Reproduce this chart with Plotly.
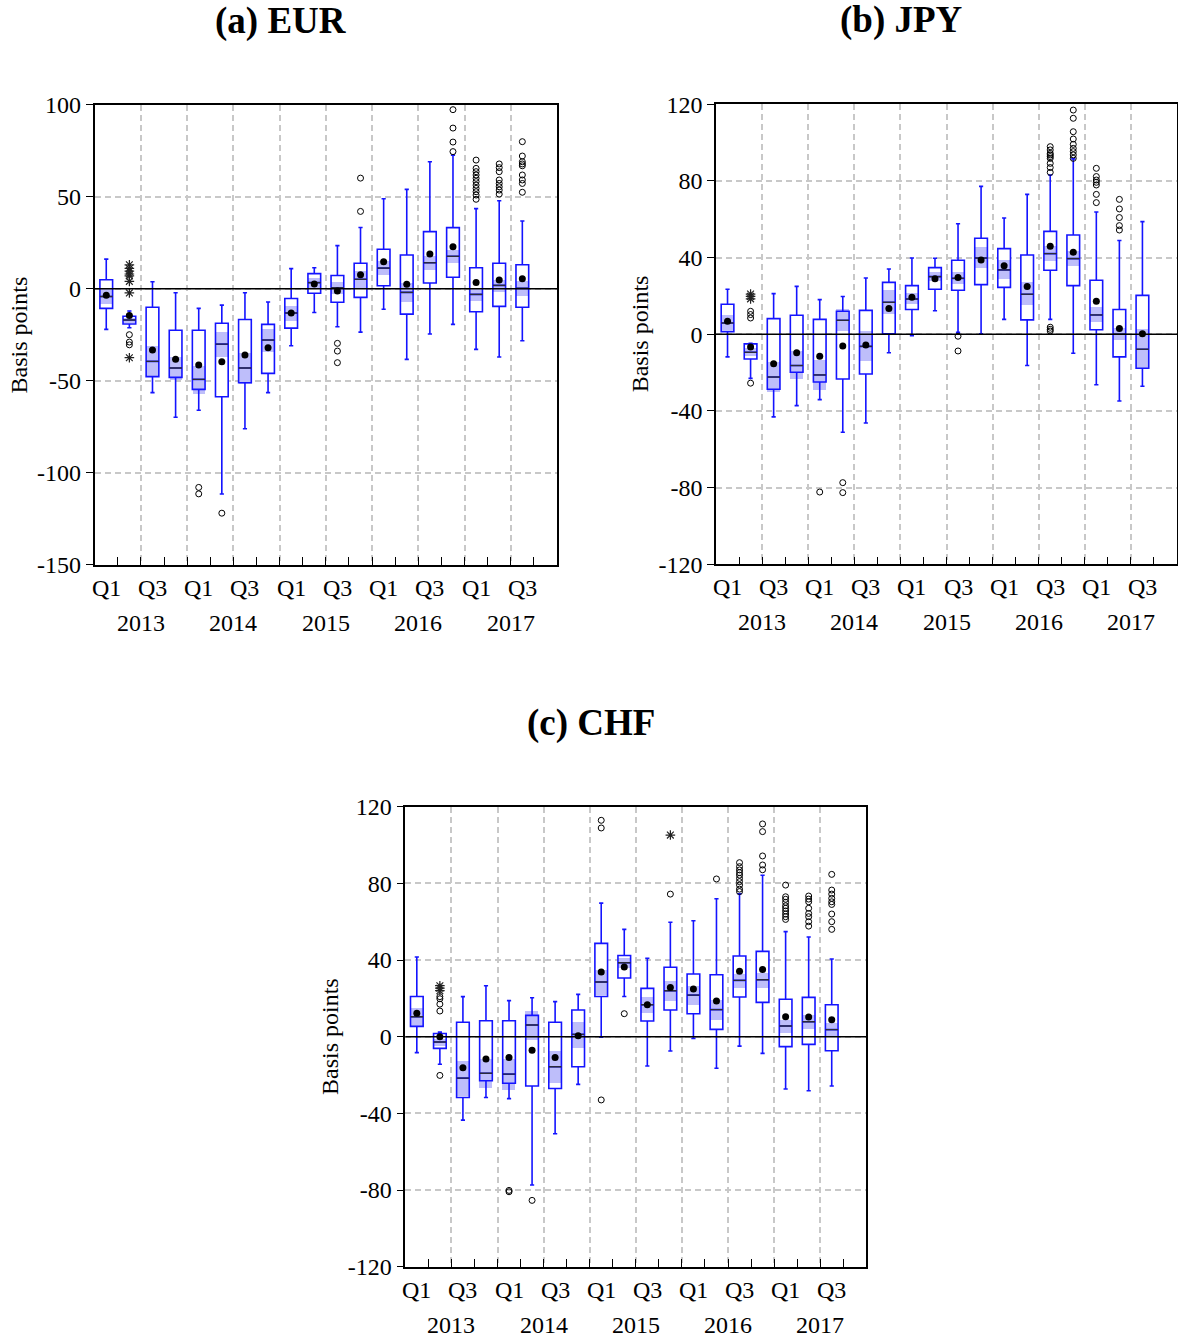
import plotly.graph_objects as go

# ---------------------------------------------------------------- data
PERIODS = ["2013Q1", "2013Q2", "2013Q3", "2013Q4",
           "2014Q1", "2014Q2", "2014Q3", "2014Q4",
           "2015Q1", "2015Q2", "2015Q3", "2015Q4",
           "2016Q1", "2016Q2", "2016Q3", "2016Q4",
           "2017Q1", "2017Q2", "2017Q3"]
N_SLOTS = 20  # 2013Q1 .. 2017Q4 on the category axis
QUARTER_LABELS = ["Q1", "Q3"] * 5
YEARS = ["2013", "2014", "2015", "2016", "2017"]

# EUR
eur_upper = [16.1, -12.1, 3.8, -2.2, -10.7, -8.9, -2.2, -7.2, 10.9, 11.4,
             23.4, 33.3, 48.9, 54.0, 69.0, 72.6, 43.5, 47.8, 36.8]
eur_q3 = [4.9, -15.0, -10.1, -22.6, -22.6, -18.8, -16.7, -19.4, -5.3, 8.2,
          7.2, 13.8, 21.4, 18.3, 31.0, 33.2, 11.4, 13.8, 13.0]
eur_median = [-4.2, -17.0, -39.5, -43.1, -49.3, -30.1, -43.1, -27.9, -13.2, 3.3,
              0.5, 5.1, 11.2, -2.0, 14.1, 17.6, -3.1, 1.8, 0.2]
eur_q1 = [-10.7, -19.2, -47.8, -48.2, -54.7, -58.7, -51.1, -46.0, -21.4, -2.5,
          -7.4, -4.7, 1.6, -13.8, 3.1, 6.2, -12.5, -9.6, -10.1]
eur_lower = [-22.1, -21.2, -56.5, -69.9, -66.1, -111.6, -76.1, -56.5, -31.0, -12.9,
             -20.7, -23.6, -11.2, -38.4, -24.6, -19.4, -33.0, -37.1, -28.3]
eur_mean = [-3.6, -14.5, -33.3, -38.4, -41.5, -39.7, -36.0, -32.1, -13.2, 2.5,
            -1.3, 7.6, 14.7, 2.4, 18.8, 22.8, 3.4, 4.7, 5.4]
eur_median_ci = [4.0, 1.3, 8.5, 6.3, 7.7, 7.0, 8.5, 6.3, 4.0, 2.5,
                 3.2, 4.5, 3.8, 5.0, 3.8, 3.7, 3.3, 3.2, 4.0]
eur_outliers = {1: [-25.0, -29.0, -30.5], 4: [-108.0, -111.5], 5: [-122.0],
                10: [-29.7, -33.9, -40.2], 11: [60.1, 42.0],
                15: [97.3, 87.3, 79.7, 74.5],
                16: [69.9, 65.4, 63.6, 61.8, 60.0, 58.2, 56.3, 54.5, 52.7, 50.9, 48.6],
                17: [67.8, 65.8, 63.6, 59.1, 57.2, 55.4, 53.6, 51.4],
                18: [79.9, 72.1, 69.0, 67.8, 66.8, 61.8, 59.1, 57.2, 52.4]}
eur_far = {1: [13.0, 11.0, 9.5, 8.0, 7.0, 4.0, -2.3, -37.5]}

# JPY
jpy_upper = [23.5, -4.7, 21.2, 25.0, 18.1, 19.7, 29.4, 34.1, 39.8, 39.7,
             57.7, 77.2, 60.7, 73.0, 83.1, 91.5, 63.8, 48.9, 58.8]
jpy_q3 = [15.7, -5.0, 8.2, 9.9, 7.8, 12.0, 12.5, 27.1, 25.4, 34.8,
          38.6, 50.1, 44.7, 41.4, 53.7, 51.8, 28.2, 12.9, 20.3]
jpy_median = [5.9, -9.4, -22.3, -16.3, -21.2, 7.3, -6.3, 16.7, 18.4, 30.1,
              29.2, 39.8, 33.6, 20.9, 42.1, 39.5, 10.1, 0.0, -7.8]
jpy_q1 = [1.4, -12.9, -28.7, -19.8, -24.9, -23.3, -20.7, 0.3, 12.9, 23.5,
          23.0, 25.9, 24.5, 7.5, 33.4, 25.4, 2.4, -11.8, -17.7]
jpy_lower = [-11.8, -23.0, -43.1, -37.2, -34.1, -51.1, -46.3, -9.6, -0.7, 12.3,
             1.0, 0.3, 7.8, -16.3, 7.8, -9.9, -26.3, -34.8, -27.1]
jpy_mean = [6.8, -6.6, -15.3, -9.6, -11.5, -6.1, -5.6, 13.4, 19.3, 29.0,
            29.6, 38.8, 35.7, 25.0, 45.9, 42.8, 17.2, 3.0, 0.3]
jpy_median_ci = [4.0, 2.0, 7.8, 7.4, 7.8, 5.6, 7.8, 6.1, 3.0, 2.5,
                 3.0, 5.4, 5.0, 6.0, 4.0, 4.0, 3.8, 3.2, 10.5]
jpy_outliers = {1: [12.0, 10.3, 8.5, -25.5], 4: [-82.3], 5: [-77.4, -82.6],
                10: [-1.0, -8.7],
                14: [97.9, 96.2, 94.4, 93.6, 92.7, 91.8, 89.2, 87.0, 84.5, 3.7, 2.6, 1.7],
                15: [117.0, 112.7, 105.7, 101.9, 99.1, 97.0, 95.3, 93.6, 91.8],
                16: [86.6, 82.3, 80.5, 79.3, 77.9, 73.0, 68.7],
                17: [70.4, 65.4, 60.9, 56.7, 54.4]}
jpy_far = {1: [21.0, 19.8, 18.5]}

# CHF
chf_upper = [41.6, 2.4, 20.9, 26.6, 18.8, 20.3, 18.3, 22.1, 69.7, 56.0,
             40.9, 59.7, 60.5, 72.0, 74.6, 84.2, 54.8, 52.0, 40.5]
chf_q3 = [21.0, 1.7, 7.5, 8.3, 8.3, 11.1, 7.5, 13.9, 48.7, 42.4,
          25.2, 36.2, 32.7, 32.3, 42.1, 44.5, 19.5, 20.5, 16.7]
chf_median = [10.4, -2.8, -21.6, -19.1, -19.5, 6.1, -15.7, 1.2, 28.5, 38.6,
              16.7, 24.0, 21.7, 14.1, 29.4, 29.7, 5.6, 7.8, 3.7]
chf_q1 = [5.4, -6.1, -31.7, -23.0, -24.3, -25.7, -27.0, -15.7, 21.0, 30.6,
          8.2, 13.9, 12.0, 3.8, 20.7, 17.9, -5.2, -4.0, -7.3]
chf_lower = [-8.3, -14.4, -43.5, -31.7, -32.3, -77.4, -50.6, -24.9, -0.3, 21.0,
             -15.3, -7.5, -0.9, -16.5, -4.9, -8.7, -27.3, -28.2, -25.7]
chf_mean = [12.3, 0.0, -16.2, -11.7, -10.8, -7.1, -10.8, 0.5, 33.7, 36.3,
            16.7, 25.7, 24.9, 18.6, 34.1, 35.0, 10.4, 10.3, 8.9]
chf_median_ci = [4.5, 1.8, 9.0, 7.5, 8.0, 7.5, 8.5, 6.8, 6.5, 2.5,
                 4.0, 5.2, 4.8, 5.2, 3.6, 3.9, 3.5, 3.5, 3.5]
chf_outliers = {1: [20.9, 19.8, 17.0, 13.4, -20.2], 4: [-80.2, -80.9], 5: [-85.4],
                8: [112.9, 108.9, -33.0], 9: [12.0], 11: [74.4], 13: [82.3],
                14: [90.8, 88.7, 87.0, 85.6, 84.3, 82.6, 80.9, 79.1, 77.0, 75.7],
                15: [111.0, 107.0, 94.3, 89.6, 87.1],
                16: [79.1, 73.0, 71.7, 70.1, 68.3, 67.0, 65.6, 64.0, 62.6, 61.2],
                17: [73.4, 71.8, 70.4, 67.0, 64.3, 62.6, 60.0, 57.7],
                18: [84.7, 76.5, 74.4, 72.2, 70.4, 69.0, 64.0, 60.0, 56.0]}
chf_far = {1: [26.6, 25.3, 24.0], 11: [105.2]}

# ---------------------------------------------------------------- style
W, H = 1178, 1337
FONT = "Liberation Serif"
BLUE = "rgb(20,20,255)"
BAND = "rgb(190,190,250)"
GRID = "rgb(200,200,200)"
BOX_W = 0.55

PANELS = [
    dict(title="(a) EUR", upper=eur_upper, q3=eur_q3, median=eur_median, q1=eur_q1,
         lower=eur_lower, mean=eur_mean, ci=eur_median_ci, out=eur_outliers, far=eur_far,
         yrange=[-150, 100], yticks=[-150, -100, -50, 0, 50, 100],
         px_x=(94.7, 557.0), px_y=(104.7, 564.7)),
    dict(title="(b) JPY", upper=jpy_upper, q3=jpy_q3, median=jpy_median, q1=jpy_q1,
         lower=jpy_lower, mean=jpy_mean, ci=jpy_median_ci, out=jpy_outliers, far=jpy_far,
         yrange=[-120, 120], yticks=[-120, -80, -40, 0, 40, 80, 120],
         px_x=(716.0, 1177.0), px_y=(104.3, 564.3)),
    dict(title="(c) CHF", upper=chf_upper, q3=chf_q3, median=chf_median, q1=chf_q1,
         lower=chf_lower, mean=chf_mean, ci=chf_median_ci, out=chf_outliers, far=chf_far,
         yrange=[-120, 120], yticks=[-120, -80, -40, 0, 40, 80, 120],
         px_x=(405.3, 866.3), px_y=(806.7, 1266.7)),
]

fig = go.Figure()
pos = list(range(len(PERIODS)))
annotations = []
shapes = []

for k, p in enumerate(PANELS):
    sfx = "" if k == 0 else str(k + 1)
    xa, ya = "x" + sfx, "y" + sfx

    # white box bodies (hide the grid inside the boxes)
    fig.add_trace(go.Bar(x=pos, y=[a - b for a, b in zip(p["q3"], p["q1"])], base=p["q1"],
                         width=BOX_W, marker=dict(color="white", line=dict(width=0)),
                         xaxis=xa, yaxis=ya, showlegend=False, hoverinfo="skip"))
    # shaded median confidence band
    fig.add_trace(go.Bar(x=pos, y=[2 * c for c in p["ci"]],
                         base=[m - c for m, c in zip(p["median"], p["ci"])],
                         width=BOX_W, marker=dict(color=BAND, line=dict(width=0)),
                         xaxis=xa, yaxis=ya, showlegend=False, hoverinfo="skip"))
    # box outlines and whiskers
    fig.add_trace(go.Box(x=pos, q1=p["q1"], median=p["median"], q3=p["q3"],
                         lowerfence=p["lower"], upperfence=p["upper"],
                         width=BOX_W, whiskerwidth=0.33, boxpoints=False,
                         fillcolor="rgba(0,0,0,0)", line=dict(color=BLUE, width=1.6),
                         xaxis=xa, yaxis=ya, showlegend=False, hoverinfo="skip"))
    # dark median bars
    mx, my = [], []
    for i, m in zip(pos, p["median"]):
        mx += [i - BOX_W / 2, i + BOX_W / 2, None]
        my += [m, m, None]
    fig.add_trace(go.Scatter(x=mx, y=my, mode="lines", line=dict(color="#2a2a3a", width=1.4),
                             xaxis=xa, yaxis=ya, showlegend=False, hoverinfo="skip"))
    # means
    fig.add_trace(go.Scatter(x=pos, y=p["mean"], mode="markers",
                             marker=dict(color="black", size=7),
                             xaxis=xa, yaxis=ya, showlegend=False, hoverinfo="skip"))
    # outliers
    ox, oy = [], []
    for i, vals in p["out"].items():
        ox += [i] * len(vals)
        oy += vals
    fig.add_trace(go.Scatter(x=ox, y=oy, mode="markers",
                             marker=dict(symbol="circle-open", color="black", size=6,
                                         line=dict(width=1)),
                             xaxis=xa, yaxis=ya, showlegend=False, hoverinfo="skip"))
    fx, fy = [], []
    for i, vals in p["far"].items():
        fx += [i] * len(vals)
        fy += vals
    fig.add_trace(go.Scatter(x=fx, y=fy, mode="markers",
                             marker=dict(symbol="asterisk-open", color="#222222", size=8,
                                         line=dict(width=1.2)),
                             xaxis=xa, yaxis=ya, showlegend=False, hoverinfo="skip"))

    x0, x1 = p["px_x"]
    y0, y1 = p["px_y"]
    axis_common = dict(showline=True, linecolor="black", linewidth=1.6, mirror=True,
                       zeroline=False)
    fig.update_layout(**{
        ("xaxis" + sfx): dict(
            domain=[x0 / W, x1 / W], anchor=ya, range=[-0.5, N_SLOTS - 0.5],
            tickmode="array", tickvals=[b + 0.5 for b in range(1, N_SLOTS - 1, 2)],
            ticks="inside", ticklen=8, tickwidth=1.4, tickcolor="black",
            showticklabels=False, showgrid=True, gridcolor=GRID, gridwidth=1.5,
            griddash="6px,4px",
            minor=dict(tickmode="array", tickvals=[b + 0.5 for b in range(0, N_SLOTS - 1, 2)],
                       ticks="inside", ticklen=8, tickwidth=1.4, tickcolor="black",
                       showgrid=False),
            **axis_common),
        ("yaxis" + sfx): dict(
            domain=[1 - y1 / H, 1 - y0 / H], anchor=xa, range=p["yrange"],
            tickmode="array", tickvals=p["yticks"], ticktext=[str(v) for v in p["yticks"]],
            ticks="outside", ticklen=7, tickwidth=1.4, tickcolor="black",
            tickfont=dict(family=FONT, size=24, color="black"),
            showgrid=True, gridcolor=GRID, gridwidth=1.5, griddash="6px,4px",
            **axis_common),
    })

    # solid zero reference line
    shapes.append(dict(type="line", xref=xa + " domain", yref=ya, x0=0, x1=1, y0=0, y1=0,
                       line=dict(color="black", width=1.6), layer="above"))

    # quarter and year labels under the axis
    for j, lab in enumerate(QUARTER_LABELS):
        annotations.append(dict(x=2 * j, y=0, xref=xa, yref=ya + " domain", text=lab,
                                showarrow=False, yanchor="middle", yshift=-23,
                                font=dict(family=FONT, size=24, color="black")))
    for j, yr in enumerate(YEARS):
        annotations.append(dict(x=4 * j + 1.5, y=0, xref=xa, yref=ya + " domain", text=yr,
                                showarrow=False, yanchor="middle", yshift=-58,
                                font=dict(family=FONT, size=24, color="black")))
    # axis title
    annotations.append(dict(x=(x0 - 76) / W, y=1 - (y0 + y1) / 2 / H, xref="paper", yref="paper",
                            text="Basis points", textangle=-90, showarrow=False,
                            xanchor="center", yanchor="middle",
                            font=dict(family=FONT, size=24, color="black")))
    # panel title
    annotations.append(dict(x=((x0 + x1) / 2 - 45) / W, y=1 - (y0 - 84) / H,
                            xref="paper", yref="paper", text="<b>" + p["title"] + "</b>",
                            showarrow=False, xanchor="center", yanchor="middle",
                            font=dict(family=FONT, size=37, color="black")))

fig.update_layout(
    width=W, height=H, margin=dict(l=0, r=0, t=0, b=0, autoexpand=False),
    paper_bgcolor="white", plot_bgcolor="white",
    barmode="overlay", bargap=0, showlegend=False,
    annotations=annotations, shapes=shapes,
)

fig.write_html("out.html")
